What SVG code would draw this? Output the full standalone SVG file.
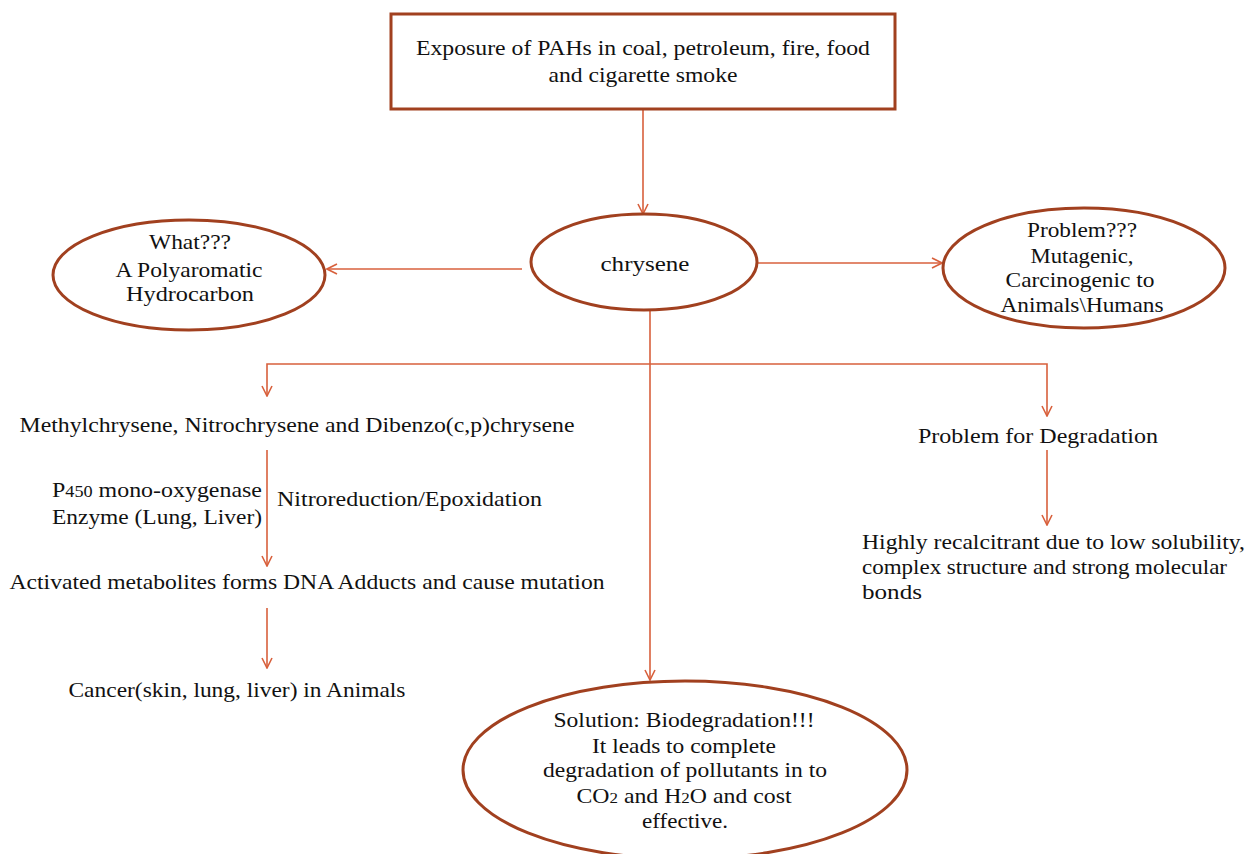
<svg xmlns="http://www.w3.org/2000/svg" width="1246" height="854" viewBox="0 0 1246 854">
<defs>
<marker id="arr" viewBox="0 0 12 12" refX="11" refY="6" markerWidth="12" markerHeight="12" markerUnits="userSpaceOnUse" orient="auto">
<path d="M1,1 L11,6 L1,11" fill="none" stroke="#D8603C" stroke-width="1.6"/>
</marker>
<style>
.n{fill:#fff;stroke:#A1401F;stroke-width:3}
.t{font-family:"Liberation Serif","Times New Roman",serif;font-size:21px;fill:#111;text-anchor:middle}
.l{text-anchor:start}
.c{fill:none;stroke:#D8603C;stroke-width:1.6}
</style>
</defs>
<rect width="1246" height="854" fill="#fff"/>
<g id="connectors">
<path class="c" d="M643,110 V214" marker-end="url(#arr)"/>
<path class="c" d="M522,269 H327" marker-end="url(#arr)"/>
<path class="c" d="M758,263 H942" marker-end="url(#arr)"/>
<path class="c" d="M650,310 V680" marker-end="url(#arr)"/>
<path class="c" d="M650,364 H267 V396" marker-end="url(#arr)"/>
<path class="c" d="M650,364 H1047 V416" marker-end="url(#arr)"/>
<path class="c" d="M267,450 V566" marker-end="url(#arr)"/>
<path class="c" d="M267,608 V668" marker-end="url(#arr)"/>
<path class="c" d="M1047,450 V525" marker-end="url(#arr)"/>
</g>
<g id="exposure">
<rect class="n" x="391" y="14" width="504" height="95"/>
<text class="t" x="643" y="55" textLength="454" lengthAdjust="spacingAndGlyphs">Exposure of PAHs in coal, petroleum, fire, food</text>
<text class="t" x="643" y="82" textLength="189" lengthAdjust="spacingAndGlyphs">and cigarette smoke</text>
</g>
<g id="chrysene">
<ellipse class="n" cx="644" cy="262" rx="113" ry="48"/>
<text class="t" x="645" y="271" textLength="89" lengthAdjust="spacingAndGlyphs">chrysene</text>
</g>
<g id="what">
<ellipse class="n" cx="189" cy="275" rx="136" ry="55"/>
<text class="t" x="190" y="249" textLength="82" lengthAdjust="spacingAndGlyphs">What???</text>
<text class="t" x="189" y="277" textLength="147" lengthAdjust="spacingAndGlyphs">A Polyaromatic</text>
<text class="t" x="190" y="301" textLength="128" lengthAdjust="spacingAndGlyphs">Hydrocarbon</text>
</g>
<g id="problem">
<ellipse class="n" cx="1084" cy="268" rx="141" ry="60"/>
<text class="t" x="1082" y="237" textLength="110" lengthAdjust="spacingAndGlyphs">Problem???</text>
<text class="t" x="1082" y="263" textLength="103" lengthAdjust="spacingAndGlyphs">Mutagenic,</text>
<text class="t" x="1080" y="287" textLength="149" lengthAdjust="spacingAndGlyphs">Carcinogenic to</text>
<text class="t" x="1082" y="312" textLength="163" lengthAdjust="spacingAndGlyphs">Animals\Humans</text>
</g>
<g id="derivatives">
<text class="t" x="297" y="432" textLength="555" lengthAdjust="spacingAndGlyphs">Methylchrysene, Nitrochrysene and Dibenzo(c,p)chrysene</text>
</g>
<g id="enzyme">
<text class="t l" x="52" y="497" textLength="210" lengthAdjust="spacingAndGlyphs">P<tspan font-size="16">450</tspan> mono-oxygenase</text>
<text class="t l" x="52" y="524" textLength="210" lengthAdjust="spacingAndGlyphs">Enzyme  (Lung, Liver)</text>
</g>
<g id="nitroreduction">
<text class="t l" x="277" y="506" textLength="265" lengthAdjust="spacingAndGlyphs">Nitroreduction/Epoxidation</text>
</g>
<g id="metabolites">
<text class="t" x="307" y="589" textLength="595" lengthAdjust="spacingAndGlyphs">Activated metabolites forms DNA Adducts and cause mutation</text>
</g>
<g id="cancer">
<text class="t" x="237" y="697" textLength="337" lengthAdjust="spacingAndGlyphs">Cancer(skin, lung, liver) in Animals</text>
</g>
<g id="degradation-problem">
<text class="t" x="1038" y="443" textLength="240" lengthAdjust="spacingAndGlyphs">Problem for Degradation</text>
</g>
<g id="recalcitrant">
<text class="t l" x="862" y="549" textLength="383" lengthAdjust="spacingAndGlyphs">Highly recalcitrant due to low  solubility,</text>
<text class="t l" x="862" y="574" textLength="365" lengthAdjust="spacingAndGlyphs">complex  structure and strong molecular</text>
<text class="t l" x="862" y="599" textLength="60" lengthAdjust="spacingAndGlyphs">bonds</text>
</g>
<g id="solution">
<ellipse class="n" cx="685" cy="770" rx="222" ry="89"/>
<text class="t" x="684" y="727" textLength="261" lengthAdjust="spacingAndGlyphs">Solution: Biodegradation!!!</text>
<text class="t" x="684" y="753" textLength="184" lengthAdjust="spacingAndGlyphs">It leads to complete</text>
<text class="t" x="685" y="777" textLength="284" lengthAdjust="spacingAndGlyphs">degradation of pollutants in to</text>
<text class="t" x="684" y="803" textLength="215" lengthAdjust="spacingAndGlyphs">CO<tspan font-size="15">2</tspan> and H<tspan font-size="15">2</tspan>O and cost</text>
<text class="t" x="685" y="828" textLength="86" lengthAdjust="spacingAndGlyphs">effective.</text>
</g>
</svg>
